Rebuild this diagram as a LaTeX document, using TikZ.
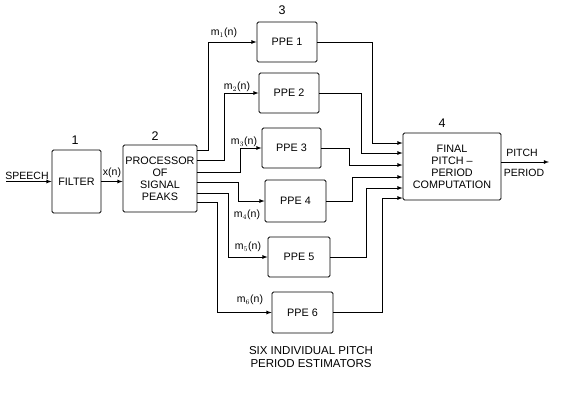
\documentclass[tikz,border=0pt]{standalone}
\usepackage{fontspec}
\setmainfont{Liberation Sans}

\begin{document}
\begin{tikzpicture}[x=1pt, y=-1pt,
  box/.style={draw, line width=0.8pt, rounded corners=1.5pt, align=center, inner sep=1pt, font=\fontsize{10.8}{12}\selectfont},
  arr/.style={-latex, line width=0.8pt},
  lbl/.style={inner sep=1pt, font=\fontsize{10.5}{11}\selectfont},
  num/.style={inner sep=1pt, font=\fontsize{12.5}{12.5}\selectfont}
]
\useasboundingbox (0,0) rectangle (567,399);
\node[box, minimum width=49pt, minimum height=63pt] (filter) at (76.5,181.5) {FILTER};
\node[box, minimum width=74pt, minimum height=67pt] (proc) at (160,178.5) {PROCESSOR\\OF\\SIGNAL\\PEAKS};
\node[box, minimum width=60pt, minimum height=40pt] (ppe1) at (287,42) {PPE 1};
\node[box, minimum width=60pt, minimum height=40pt] (ppe2) at (289,93) {PPE 2};
\node[box, minimum width=59pt, minimum height=40pt] (ppe3) at (291.5,148) {PPE 3};
\node[box, minimum width=61pt, minimum height=42pt] (ppe4) at (295.5,201) {PPE 4};
\node[box, minimum width=62pt, minimum height=40pt] (ppe5) at (299,257) {PPE 5};
\node[box, minimum width=61pt, minimum height=41pt] (ppe6) at (302.5,312.5) {PPE 6};
\node[box, minimum width=98pt, minimum height=67pt] (fin) at (452,166.5) {FINAL\\PITCH --\\PERIOD\\COMPUTATION};
% block numbers
\node[num] (n1) at (75,140) {1};
\node[num] (n2) at (155,136) {2};
\node[num] (n3) at (282,10) {3};
\node[num] (n4) at (442,123) {4};
% signal labels
\node[lbl] (speech) at (27,176) {SPEECH};
\node[lbl] (xn) at (112,173) {x(n)};
\node[lbl] (m1) at (224,33) {m$_1$(n)};
\node[lbl] (m2) at (237,87) {m$_2$(n)};
\node[lbl] (m3) at (244,142) {m$_3$(n)};
\node[lbl] (m4) at (247,215) {m$_4$(n)};
\node[lbl] (m5) at (248,247) {m$_5$(n)};
\node[lbl] (m6) at (250,300) {m$_6$(n)};
\node[lbl] (pitch) at (522,153) {PITCH};
\node[lbl] (period) at (524,173) {PERIOD};
\node[lbl, align=center, font=\fontsize{11.5}{13}\selectfont] (six) at (311,357) {SIX INDIVIDUAL PITCH\\PERIOD ESTIMATORS};
\coordinate (in) at (6,181.5);
\coordinate (out) at (549,162);
\draw[arr] (in) -- (filter.west);
\draw[arr] (filter.east) -- (proc.west |- filter.east);
\draw[arr] (fin.east |- out) -- (out);
% processor to estimators
\draw[arr] (proc.east |- 0,150) -- (208,150) |- (ppe1.west);
\draw[arr] (proc.east |- 0,160) -- (224,160) |- (ppe2.west);
\draw[arr] (proc.east |- 0,172) -- (240,172) |- (ppe3.west);
\draw[arr] (proc.east |- 0,182) -- (238,182) |- (ppe4.west);
\draw[arr] (proc.east |- 0,193) -- (228,193) |- (ppe5.west);
\draw[arr] (proc.east |- 0,202) -- (217,202) |- (ppe6.west);
% estimators to final computation
\draw[arr] (ppe1.east) -| (372,143) -- (fin.west |- 0,143);
\draw[arr] (ppe2.east) -| (361,153) -- (fin.west |- 0,153);
\draw[arr] (ppe3.east) -| (349,165) -- (fin.west |- 0,165);
\draw[arr] (ppe4.east) -| (352,177) -- (fin.west |- 0,177);
\draw[arr] (ppe5.east) -| (366,188) -- (fin.west |- 0,188);
\draw[arr] (ppe6.east) -| (382,198) -- (fin.west |- 0,198);
\end{tikzpicture}
\end{document}
